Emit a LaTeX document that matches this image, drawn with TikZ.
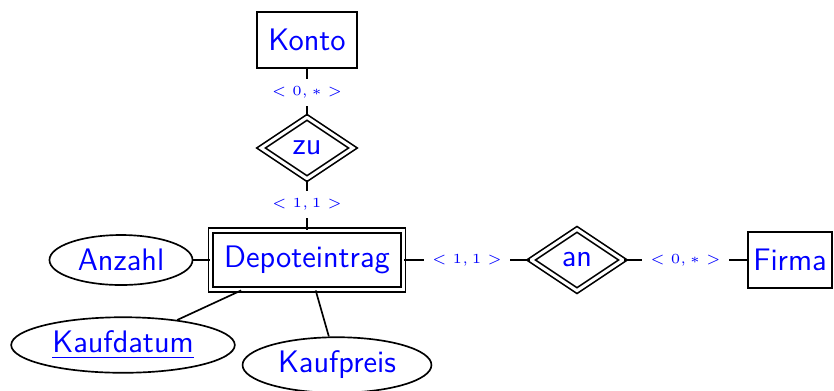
\documentclass[tikz,border=0pt]{standalone}
\usepackage{amsmath, amssymb}
\usepackage{xcolor}
\usetikzlibrary{shapes.geometric}

\newcommand{\erfont}{\fontsize{11.2pt}{13pt}\selectfont\sffamily}

\tikzset{
  entity/.style={draw, line width=0.6pt, rectangle, font=\erfont, text=blue,
    minimum width=#1, minimum height=20pt, inner sep=2pt},
  entity/.default=36pt,
  weakentity/.style={draw, line width=0.6pt, double, double distance=1.1pt, rectangle,
    font=\erfont, text=blue, minimum width=69.3pt, minimum height=21.3pt, inner sep=2pt},
  relation/.style={draw, line width=0.6pt, double, double distance=1.1pt, diamond,
    font=\erfont, text=blue, minimum width=33.3pt, minimum height=22.3pt, inner sep=0pt},
  attrib/.style={draw, line width=0.6pt, ellipse, font=\erfont, text=blue,
    minimum width=#1, minimum height=18pt, inner sep=1pt},
  card/.style={fill=white, font=\tiny, text=blue, inner sep=2.8pt}
}

\begin{document}
\begin{tikzpicture}[x=0.36pt, y=-0.36pt]
            \useasboundingbox (0,0) rectangle (834,390);

            % entities
            \node[entity] (konto) at (307, 40) {Konto};
            \node[weakentity] (depot) at (307, 260) {Depoteintrag};
            \node[entity=30pt] (firma) at (790, 260) {Firma};

            % relationships
            \node[relation] (zu) at (307, 148) {zu};
            \node[relation] (an) at (577, 260) {an};

            % attributes
            \node[attrib=51.5pt] (anzahl) at (121, 260) {Anzahl};
            \node[attrib=80.5pt, minimum height=20pt] (kaufdatum) at (123, 345) {\underline{Kaufdatum}};
            \node[attrib=68pt, minimum height=20pt] (kaufpreis) at (337, 365) {Kaufpreis};

            \draw[line width=0.6pt] (konto) -- node[card] {$<0,*>$} (zu); % konto-zu
            \draw[line width=0.6pt] (zu) -- node[card] {$<1,1>$} (depot); % zu-depot
            \draw[line width=0.6pt] (depot) -- node[card] {$<1,1>$} (an); % depot-an
            \draw[line width=0.6pt] (an) -- node[card] {$<0,*>$} (firma); % an-firma
            \draw[line width=0.6pt] (anzahl) -- (depot); % anzahl-depot
            \draw[line width=0.6pt] (depot) -- (kaufdatum); % depot-kaufdatum
            \draw[line width=0.6pt] (depot) -- (kaufpreis); % depot-kaufpreis
        \end{tikzpicture}
\end{document}
